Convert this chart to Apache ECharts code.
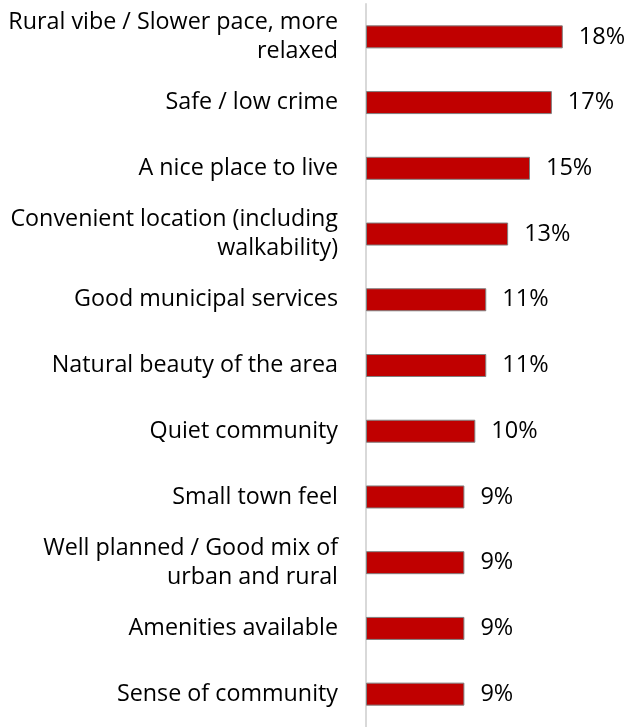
<!DOCTYPE html>
<html>
<head>
<meta charset="utf-8">
<script src="https://cdn.jsdelivr.net/npm/echarts@6/dist/echarts.min.js"></script>
<style>
  html, body { margin: 0; padding: 0; background: #ffffff; }
  #chart { width: 631px; height: 727px; }
</style>
</head>
<body>
<div id="chart"></div>
<script>
// Reasons people like living here, share of mentions (%)
const categories = [
  'Rural vibe / Slower pace, more\nrelaxed',
  'Safe / low crime',
  'A nice place to live',
  'Convenient location (including\nwalkability)',
  'Good municipal services',
  'Natural beauty of the area',
  'Quiet community',
  'Small town feel',
  'Well planned / Good mix of\nurban and rural',
  'Amenities available',
  'Sense of community'
];
const shares = [18, 17, 15, 13, 11, 11, 10, 9, 9, 9, 9];

const FONT = 'Open Sans';
const chart = echarts.init(document.getElementById('chart'), null, { renderer: 'canvas' });

chart.setOption({
  animation: false,
  grid: { left: 366, right: 2.6, top: 4, height: 725.5, containLabel: false },
  xAxis: {
    type: 'value',
    min: 0,
    max: 24,
    show: false
  },
  yAxis: {
    type: 'category',
    data: categories,
    inverse: true,
    axisLine: { show: true, lineStyle: { color: '#d9d9d9', width: 2 } },
    axisTick: { show: false },
    splitLine: { show: false },
    axisLabel: {
      margin: 28,
      color: '#000000',
      fontFamily: FONT,
      fontSize: 23.3,
      lineHeight: 29,
      align: 'right'
    }
  },
  series: [{
    type: 'bar',
    data: shares,
    barWidth: 23,
    itemStyle: { color: '#c00000', borderColor: '#7f7f7f', borderWidth: 1 },
    label: {
      show: true,
      position: 'right',
      distance: 16,
      formatter: '{c}%',
      color: '#000000',
      fontFamily: FONT,
      fontSize: 23.5
    }
  }]
});
</script>
</body>
</html>
